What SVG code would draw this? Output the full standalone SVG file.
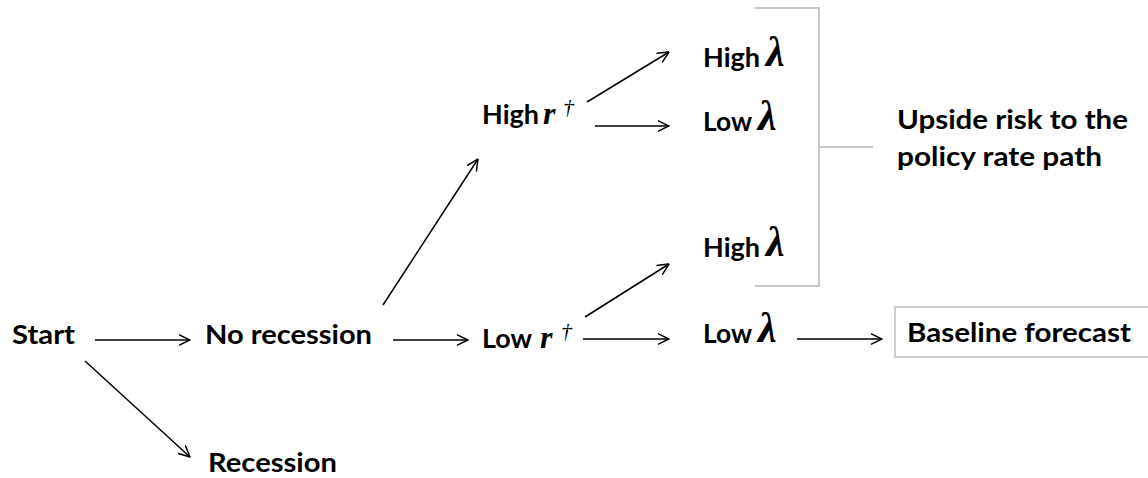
<svg xmlns="http://www.w3.org/2000/svg" width="1148" height="478" viewBox="0 0 1148 478">
<defs>
<style>
.t{font-family:Lato,"Open Sans","Liberation Sans",sans-serif;font-weight:700;font-size:27px;fill:#000}
.l{font-family:"Liberation Serif","DejaVu Serif",serif;font-style:italic;font-weight:700;font-size:42px;fill:#000}
.r{font-family:"Liberation Serif","DejaVu Serif",serif;font-style:italic;font-weight:700;font-size:32px;fill:#000}
.d{font-family:"Liberation Serif","DejaVu Serif",serif;font-style:italic;font-size:22px;fill:#000}
.c{stroke:#000;stroke-width:1.5;fill:none;marker-end:url(#ah)}
.g{stroke:#c8c8c8;stroke-width:2;fill:none}
</style>
<marker id="ah" viewBox="0 0 12 12" refX="11.5" refY="6" markerWidth="12" markerHeight="12" markerUnits="userSpaceOnUse" orient="auto">
<path d="M0,0.5 L11.5,6 L0,11.5" fill="none" stroke="#000" stroke-width="1.5"/>
</marker>
</defs>
<rect width="1148" height="478" fill="#fff"/>
<g id="connectors">
<line class="c" x1="95" y1="340" x2="190" y2="340"/>
<line class="c" x1="85" y1="361" x2="190" y2="457"/>
<line class="c" x1="383" y1="305" x2="478" y2="159"/>
<line class="c" x1="393" y1="340" x2="468" y2="340"/>
<line class="c" x1="587" y1="102" x2="669" y2="52"/>
<line class="c" x1="595" y1="126" x2="669" y2="126"/>
<line class="c" x1="585" y1="317" x2="669" y2="264"/>
<line class="c" x1="583" y1="339" x2="669" y2="339"/>
<line class="c" x1="797" y1="339" x2="882" y2="339"/>
</g>
<g id="bracket">
<path class="g" d="M755,8 H819 V286 H755"/>
<line class="g" x1="819" y1="147" x2="873" y2="147"/>
</g>
<g id="start"><text class="t" x="12" y="344" textLength="63" lengthAdjust="spacingAndGlyphs">Start</text></g>
<g id="no-recession"><text class="t" x="205" y="344" textLength="167" lengthAdjust="spacingAndGlyphs">No recession</text></g>
<g id="recession"><text class="t" x="208" y="472" textLength="129" lengthAdjust="spacingAndGlyphs">Recession</text></g>
<g id="high-r">
<text class="t" x="482" y="124" textLength="57" lengthAdjust="spacingAndGlyphs">High</text>
<text class="r" x="543" y="124">r</text>
<text class="d" x="563" y="114">†</text>
</g>
<g id="low-r">
<text class="t" x="482" y="348" textLength="50" lengthAdjust="spacingAndGlyphs">Low</text>
<text class="r" x="540" y="348">r</text>
<text class="d" x="561" y="338">†</text>
</g>
<g id="high-lambda-1">
<text class="t" x="703" y="67" textLength="57" lengthAdjust="spacingAndGlyphs">High</text>
<text class="l" x="766" y="66">λ</text>
</g>
<g id="low-lambda-1">
<text class="t" x="703" y="131" textLength="49" lengthAdjust="spacingAndGlyphs">Low</text>
<text class="l" x="758" y="130">λ</text>
</g>
<g id="high-lambda-2">
<text class="t" x="703" y="257" textLength="57" lengthAdjust="spacingAndGlyphs">High</text>
<text class="l" x="766" y="256">λ</text>
</g>
<g id="low-lambda-2">
<text class="t" x="703" y="343" textLength="49" lengthAdjust="spacingAndGlyphs">Low</text>
<text class="l" x="758" y="342">λ</text>
</g>
<g id="upside-risk">
<text class="t" x="897" y="129" textLength="231" lengthAdjust="spacingAndGlyphs">Upside risk to the</text>
<text class="t" x="897" y="166" textLength="205" lengthAdjust="spacingAndGlyphs">policy rate path</text>
</g>
<g id="baseline">
<rect x="895" y="307" width="260" height="50" fill="#fff" stroke="#c0c0c0" stroke-width="1.5"/>
<text class="t" x="907" y="342" textLength="224" lengthAdjust="spacingAndGlyphs">Baseline forecast</text>
</g>
</svg>
